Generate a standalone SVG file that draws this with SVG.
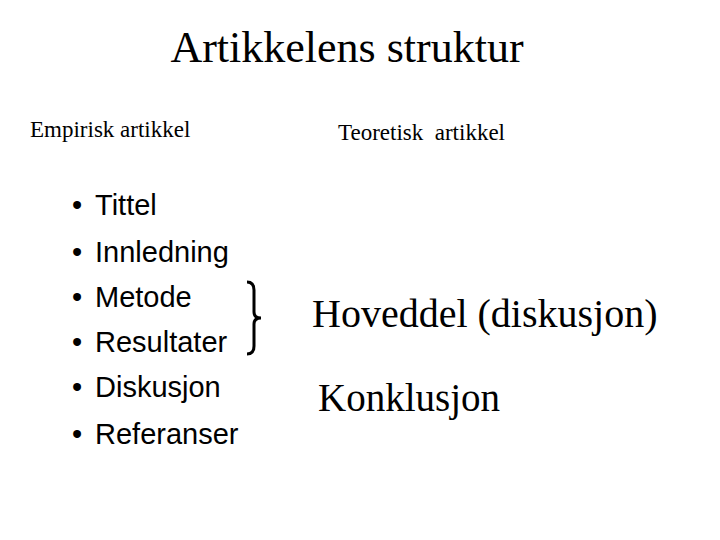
<svg xmlns="http://www.w3.org/2000/svg" width="720" height="540" viewBox="0 0 720 540">
<style>
.s{font-family:"Liberation Serif",serif;fill:#000}
.a{font-family:"Liberation Sans",sans-serif;fill:#000;font-size:29px}
</style>
<rect width="720" height="540" fill="#fff"/>
<g id="title"><text class="s" x="347" y="62" font-size="44" text-anchor="middle">Artikkelens struktur</text></g>
<g id="head1"><text class="s" x="30" y="137" font-size="23">Empirisk artikkel</text></g>
<g id="head2"><text class="s" x="338" y="140" font-size="23" xml:space="preserve">Teoretisk  artikkel</text></g>
<g id="list">
<text class="a" x="72" y="215">•</text><text class="a" x="95" y="215">Tittel</text>
<text class="a" x="72" y="262">•</text><text class="a" x="95" y="262">Innledning</text>
<text class="a" x="72" y="307">•</text><text class="a" x="95" y="307">Metode</text>
<text class="a" x="72" y="352">•</text><text class="a" x="95" y="352">Resultater</text>
<text class="a" x="72" y="397">•</text><text class="a" x="95" y="397">Diskusjon</text>
<text class="a" x="72" y="444">•</text><text class="a" x="95" y="444">Referanser</text>
</g>
<g id="connectors"><path d="M247,282 Q254,282 254,290 L254,312 Q254,318 261,318 Q254,318 254,324 L254,346 Q254,354 247,354" fill="none" stroke="#000" stroke-width="3"/></g>
<g id="hoveddel"><text class="s" x="312" y="327" font-size="40">Hoveddel (diskusjon)</text></g>
<g id="konklusjon"><text class="s" x="318" y="411" font-size="39">Konklusjon</text></g>
</svg>
